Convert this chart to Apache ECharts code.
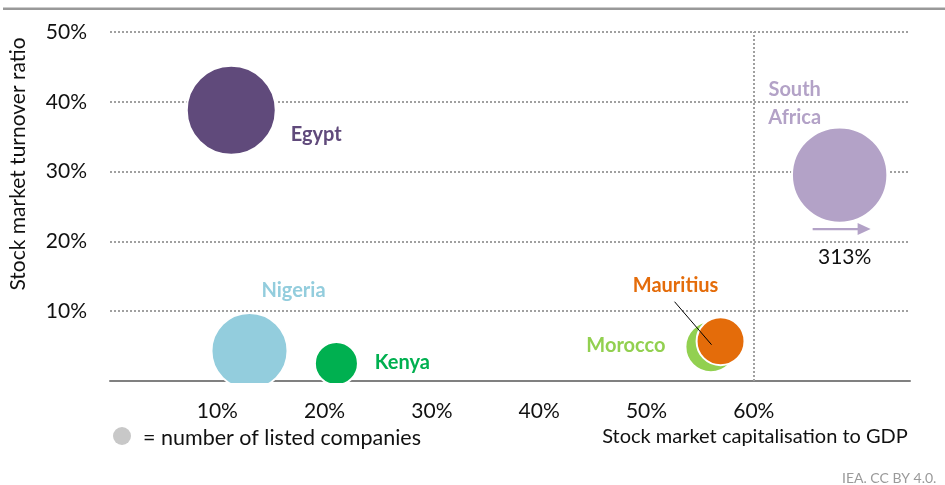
<!DOCTYPE html>
<html><head><meta charset="utf-8">
<script src="https://cdn.jsdelivr.net/npm/echarts@6/dist/echarts.min.js"></script>
<style>html,body{margin:0;padding:0;background:#fff}#c{width:945px;height:485px}</style>
</head><body><div id="c"></div>
<script>
// ---- data ----
const countries = ['Egypt', 'Nigeria', 'Kenya', 'Morocco', 'Mauritius', 'South Africa'];
const capToGdp = [11.3, 13.0, 21.1, 56.0, 56.9, 313];      // % of GDP
const turnover = [38.8, 4.3, 2.5, 4.9, 5.7, 29.5];          // %
const listedCompanies = [287, 208, 64, 91, 80, 331];        // bubble size
const xTickValues = [10, 20, 30, 40, 50, 60];
const yTickValues = [10, 20, 30, 40, 50];
const xAxisTitle = 'Stock market capitalisation to GDP';
const yAxisTitle = 'Stock market turnover ratio';
const sizeNote = '= number of listed companies';
const source = 'IEA. CC BY 4.0.';
const southAfricaNote = '313%';

// ---- styles ----
const FONT = 'Lato, "Open Sans", sans-serif';
const colors = ['#604a7b', '#93cddd', '#00b050', '#92d050', '#e46c0a', '#b3a2c7'];
const labelNames = ['Egypt', 'Nigeria', 'Kenya', 'Morocco', 'Mauritius', 'South\nAfrica'];
const labelOffsets = [[85, 24], [44, -60], [66, -1], [-85, -1], [-45, -56], [-45, -72]];
const sizeK = 2.567;
const breakStart = 66;   // last tick before the axis break is drawn by hand

const chart = echarts.init(document.getElementById('c'), null, {renderer: 'canvas'});

const data = countries.map((c, i) => ({
  name: c,
  value: [capToGdp[i], turnover[i], listedCompanies[i]],
  symbolSize: 2 * Math.sqrt(listedCompanies[i]) * sizeK + 2,
  itemStyle: {color: colors[i], borderColor: '#fff', borderWidth: 2, opacity: 1},
  label: {
    show: true, position: 'inside', offset: labelOffsets[i],
    formatter: labelNames[i], color: colors[i], fontFamily: FONT,
    fontWeight: 'bold', fontSize: 20, lineHeight: 28, align: 'center'
  }
}));

const dotted = {color: '#a0a0a0', width: 2, type: [2, 2]};
const lastTick = xTickValues[xTickValues.length - 1];

chart.setOption({
  animation: false,
  backgroundColor: '#fff',
  grid: {left: 110, top: 32, width: 799.4, height: 349, outerBoundsMode: 'none', containLabel: false},
  xAxis: {
    type: 'value', min: 0, max: 319.5, interval: 10,
    breaks: [{start: breakStart, end: 311, gap: 0}],
    breakArea: {show: false},
    axisLine: {show: true, lineStyle: {color: '#808080', width: 2}},
    axisTick: {show: false},
    splitLine: {show: false},
    axisLabel: {
      margin: 20, color: '#111', fontFamily: FONT, fontSize: 21, hideOverlap: false,
      formatter: v => {
        const r = Math.round(v * 1000) / 1000;
        return (r !== lastTick && xTickValues.indexOf(r) >= 0) ? r + '%' : '';
      }
    }
  },
  yAxis: {
    type: 'value', min: 0, max: 50, interval: 10,
    axisLine: {show: false}, axisTick: {show: false},
    splitLine: {show: true, lineStyle: dotted},
    axisLabel: {
      margin: 23, color: '#111', fontFamily: FONT, fontSize: 21,
      formatter: v => yTickValues.indexOf(v) >= 0 ? v + '%' : ''
    }
  },
  series: [{
    type: 'scatter',
    data: data,
    z: 5,
    emphasis: {disabled: true},
    markLine: {
      silent: true, symbol: 'none', animation: false,
      label: {show: false},
      lineStyle: dotted,
      data: [{xAxis: lastTick}]
    }
  }]
});

function place() {
  const mau = chart.convertToPixel({gridIndex: 0}, [capToGdp[4], turnover[4]]);
  const sa = chart.convertToPixel({gridIndex: 0}, [capToGdp[5], turnover[5]]);
  const t60 = chart.convertToPixel({gridIndex: 0}, [lastTick, 0]);
  const gridBottom = t60[1];
  chart.setOption({
    graphic: [
      {type: 'rect', z: 100, silent: true, shape: {x: 100, y: gridBottom + 2, width: 845, height: 14}, style: {fill: '#fff'}},
      {type: 'text', z: 101, silent: true, x: t60[0], y: gridBottom + 20, style: {text: lastTick + '%', fill: '#111', font: '21px ' + FONT, textAlign: 'center', textVerticalAlign: 'top'}},
      {type: 'line', z: 101, silent: true, shape: {x1: 3, y1: 8.7, x2: 945, y2: 8.7}, style: {stroke: '#999', lineWidth: 2.5}},
      {type: 'line', z: 101, silent: true, shape: {x1: mau[0] - 46, y1: mau[1] - 39.5, x2: mau[0] - 9, y2: mau[1] + 3.5}, style: {stroke: '#000', lineWidth: 1}},
      {type: 'line', z: 101, silent: true, shape: {x1: sa[0] - 27, y1: sa[1] + 54, x2: sa[0] + 19, y2: sa[1] + 54}, style: {stroke: '#b3a2c7', lineWidth: 2.3}},
      {type: 'polygon', z: 101, silent: true, shape: {points: [[sa[0] + 18, sa[1] + 48], [sa[0] + 31, sa[1] + 54], [sa[0] + 18, sa[1] + 60]]}, style: {fill: '#b3a2c7'}},
      {type: 'text', z: 101, silent: true, x: sa[0] + 5, y: sa[1] + 82, style: {text: southAfricaNote, fill: '#111', font: '21px ' + FONT, textAlign: 'center', textVerticalAlign: 'middle'}},
      {type: 'text', z: 101, silent: true, x: 18.5, y: 164, rotation: Math.PI / 2, style: {text: yAxisTitle, fill: '#111', font: '21px ' + FONT, textAlign: 'center', textVerticalAlign: 'middle'}},
      {type: 'text', z: 101, silent: true, x: 755, y: 437, style: {text: xAxisTitle, fill: '#111', font: '20px ' + FONT, textAlign: 'center', textVerticalAlign: 'middle'}},
      {type: 'circle', z: 101, silent: true, shape: {cx: 122, cy: 436, r: 9}, style: {fill: '#c8c8c8'}},
      {type: 'text', z: 101, silent: true, x: 143, y: 438, style: {text: sizeNote, fill: '#111', font: '21.5px ' + FONT, textAlign: 'left', textVerticalAlign: 'middle'}},
      {type: 'text', z: 101, silent: true, x: 842, y: 478, style: {text: source, fill: '#9a9a9a', font: '14px ' + FONT, textAlign: 'left', textVerticalAlign: 'middle'}}
    ]
  });
}
place();
</script>
</body></html>
